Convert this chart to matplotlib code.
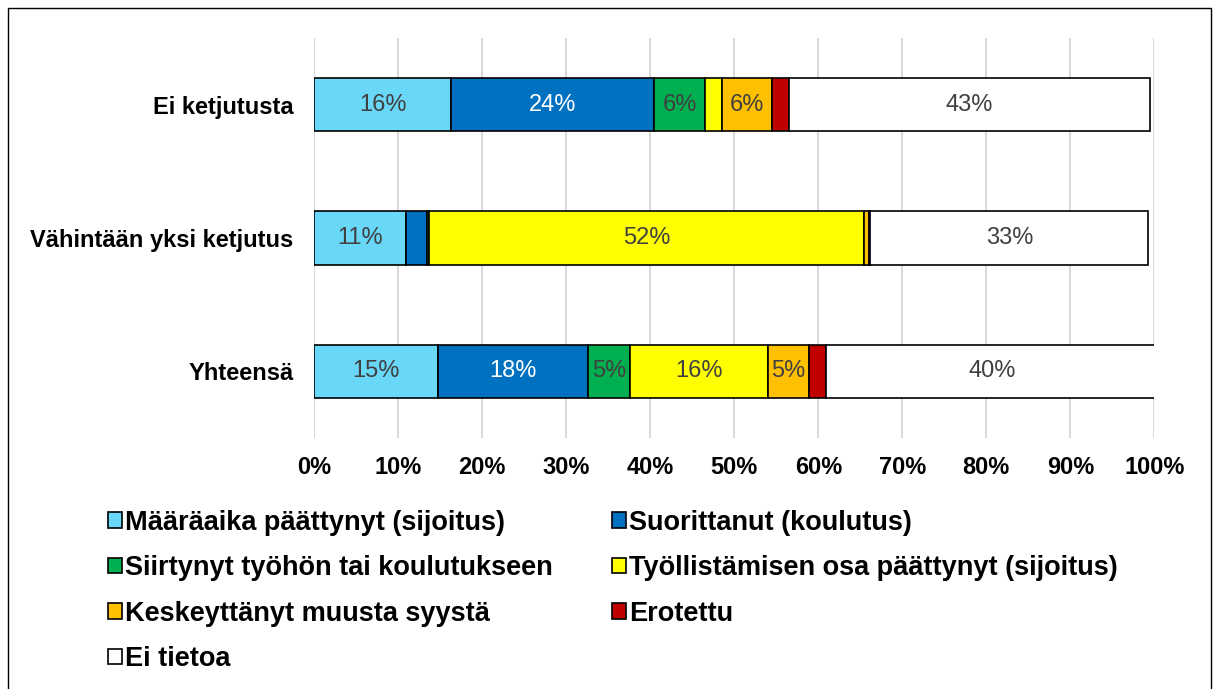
import numpy as np
import matplotlib
matplotlib.use("Agg")
import matplotlib.pyplot as plt
from matplotlib.patches import Rectangle

plt.rcParams['font.family'] = ['Liberation Sans', 'DejaVu Sans']

categories = ["Ei ketjutusta", "Vähintään yksi ketjutus", "Yhteensä"]
series = ["Määräaika päättynyt (sijoitus)", "Suorittanut (koulutus)",
          "Siirtynyt työhön tai koulutukseen", "Työllistämisen osa päättynyt (sijoitus)",
          "Keskeyttänyt muusta syystä", "Erotettu", "Ei tietoa"]
# percentages per series, one value per category
maaraaika = [16.3, 10.9, 14.7]
suorittanut = [24.2, 2.5, 17.9]
siirtynyt = [6.0, 0.3, 5.0]
tyollistamisen = [2.0, 51.7, 16.4]
keskeyttanyt = [6.0, 0.6, 4.9]
erotettu = [2.0, 0.2, 2.0]
ei_tietoa = [43.0, 33.1, 39.6]
colors = ["#69D7F8", "#0070C0", "#00B050", "#FFFF00", "#FFC000", "#C00000", "#FFFFFF"]
text_colors = ["#404040", "#FFFFFF", "#404040", "#404040", "#404040", "#404040", "#404040"]

values = [maaraaika, suorittanut, siirtynyt, tyollistamisen, keskeyttanyt, erotettu, ei_tietoa]

fig = plt.figure(figsize=(12.19, 6.89), dpi=100)
ax = fig.add_axes([0.2578, 0.3643, 0.6891, 0.5805])

y = np.arange(len(categories))
left = np.zeros(len(categories))
bars = []
for name, vals, col, tcol in zip(series, values, colors, text_colors):
    v = np.array(vals) / 100
    b = ax.barh(y, v, left=left, height=0.4, color=col, edgecolor='black',
                linewidth=1.2, label=name, zorder=3)
    bars.append(b)
    for yi, (l, w) in enumerate(zip(left, v)):
        if w >= 0.04:
            ax.text(l + w / 2, yi, f"{w*100:.0f}%", ha='center', va='center',
                    fontsize=17, color=tcol, zorder=4)
    left += v

ax.set_xlim(0, 1)
ax.set_ylim(2.5, -0.5)
ax.set_yticks(y)
ax.set_yticklabels(categories, fontsize=17, fontweight='bold')
ax.set_xticks(np.linspace(0, 1, 11))
ax.set_xticklabels([f"{i}%" for i in range(0, 101, 10)], fontsize=17, fontweight='bold')
ax.tick_params(axis='both', length=0)
ax.tick_params(axis='y', pad=15)
ax.tick_params(axis='x', pad=13)
ax.grid(axis='x', color='#D9D9D9', linewidth=1.5, zorder=0)
for s in ax.spines.values():
    s.set_visible(False)

# legend reads row by row, matplotlib fills column by column
order = [0, 2, 4, 6, 1, 3, 5]
fig.legend([bars[i] for i in order], [series[i] for i in order],
           loc='upper left', bbox_to_anchor=(0.08, 0.276), ncol=2,
           frameon=False, prop={'weight': 'bold', 'size': 19.5},
           handlelength=0.5, handleheight=0.5, handletextpad=0.12,
           columnspacing=2.2, labelspacing=0.72, borderaxespad=0)

fig.patches.append(Rectangle((8 / 1219, -0.02), 1203 / 1219, 1.02 - 8 / 689,
                             transform=fig.transFigure, fill=False,
                             edgecolor='black', linewidth=1.0))

fig.savefig("out.png", dpi=100)
